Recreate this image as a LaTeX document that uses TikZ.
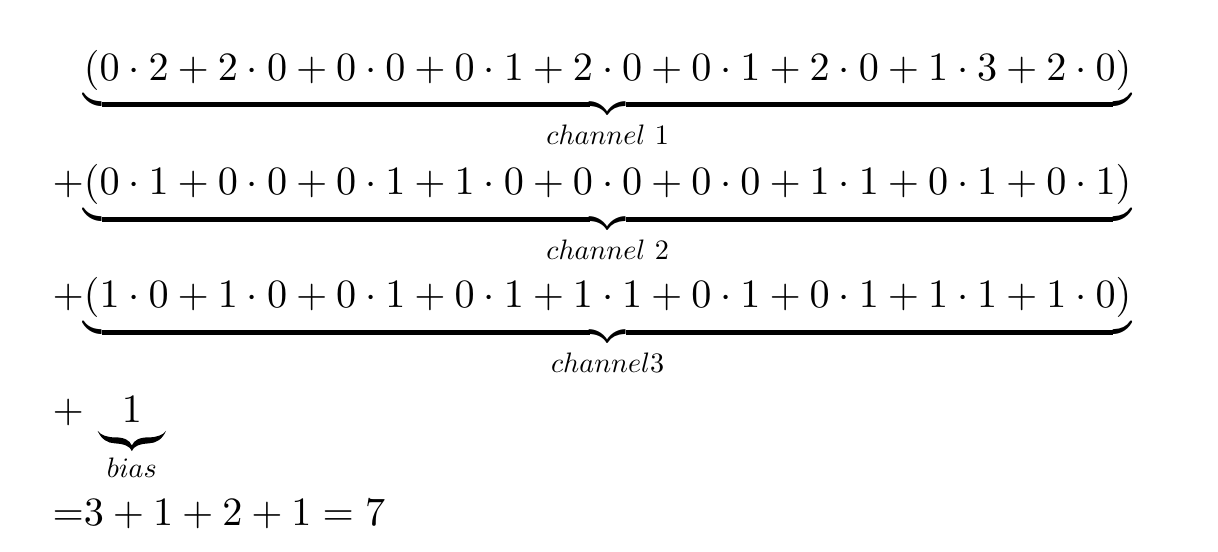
\documentclass[tikz,border=0pt]{standalone}
\usepackage{amsmath}
\usetikzlibrary{math}

\begin{document}
\begin{tikzpicture}[x=1pt,y=1pt,
  eqrow/.style={anchor=base west,inner sep=0pt,outer sep=0pt},
  eqsign/.style={anchor=base east,inner sep=0pt,outer sep=0pt},
  chanlabel/.style={anchor=base,scale=0.7,inner sep=0pt,outer sep=0pt}]
  \tikzmath{
    real \xsign, \xterm, \ya, \yb, \yc, \yd, \ye, \labdrop, \xbias;
    \xsign=13.1;
    \xterm=\xsign+7.78;
    \ya=-19.9;
    \yb=-48.5;
    \yc=-76.6;
    \yd=-105.2;
    \ye=-130.8;
    \labdrop=16;
    \xbias=32.8;
  }
  \useasboundingbox (0,0) rectangle (303,-137.3);

  % the three channel sums
  \node[eqrow] (chone) at (\xterm,\ya)
    {$\underbrace{(0\cdot 2+2\cdot 0+0\cdot 0+0\cdot 1+2\cdot 0+0\cdot 1+2\cdot 0+1\cdot 3+2\cdot 0)}$};
  \node[eqrow] (chtwo) at (\xterm,\yb)
    {$\underbrace{(0\cdot 1+0\cdot 0+0\cdot 1+1\cdot 0+0\cdot 0+0\cdot 0+1\cdot 1+0\cdot 1+0\cdot 1)}$};
  \node[eqrow] (chthree) at (\xterm,\yc)
    {$\underbrace{(1\cdot 0+1\cdot 0+0\cdot 1+0\cdot 1+1\cdot 1+0\cdot 1+0\cdot 1+1\cdot 1+1\cdot 0)}$};
  \node[eqsign] (plustwo) at (chtwo.base west) {$+$};
  \node[eqsign] (plusthree) at (chthree.base west) {$+$};

  \coordinate (labone) at ([yshift=-\labdrop pt]chone.base);
  \coordinate (labtwo) at ([yshift=-\labdrop pt]chtwo.base);
  \coordinate (labthree) at ([yshift=-\labdrop pt]chthree.base);
  \node[chanlabel] (lblone) at (labone) {$channel\ 1$};
  \node[chanlabel] (lbltwo) at (labtwo) {$channel\ 2$};
  \node[chanlabel] (lblthree) at (labthree) {$channel3$};

  % bias term with its small brace
  \node[eqrow] (plusbias) at (\xsign,\yd) {$+$};
  \node[anchor=base,inner sep=0pt] (biasterm) at (\xbias,\yd) {$1$};
  \coordinate (biasbrace) at (\xbias,\yd-2);
  \fill[shift={(biasbrace)}]
    (-8.5,0) .. controls (-7.5,-2.2) and (-6,-3.0) .. (-4.2,-3.1)
    .. controls (-2,-3.2) and (-0.4,-3.8) .. (0,-5)
    .. controls (0.4,-3.8) and (2,-3.2) .. (4.2,-3.1)
    .. controls (6,-3.0) and (7.5,-2.2) .. (8.5,0)
    .. controls (7.8,-1) and (6.2,-1.6) .. (4.2,-1.6)
    .. controls (2,-1.6) and (0.6,-2.2) .. (0,-3.6)
    .. controls (-0.6,-2.2) and (-2,-1.6) .. (-4.2,-1.6)
    .. controls (-6.2,-1.6) and (-7.8,-1) .. (-8.5,0) -- cycle;
  \node[chanlabel] (lblbias) at (\xbias,\yd-13.7) {$bias$};

  \node[eqrow] (total) at (\xsign,\ye) {${=}3+1+2+1=7$};
\end{tikzpicture}
\end{document}
